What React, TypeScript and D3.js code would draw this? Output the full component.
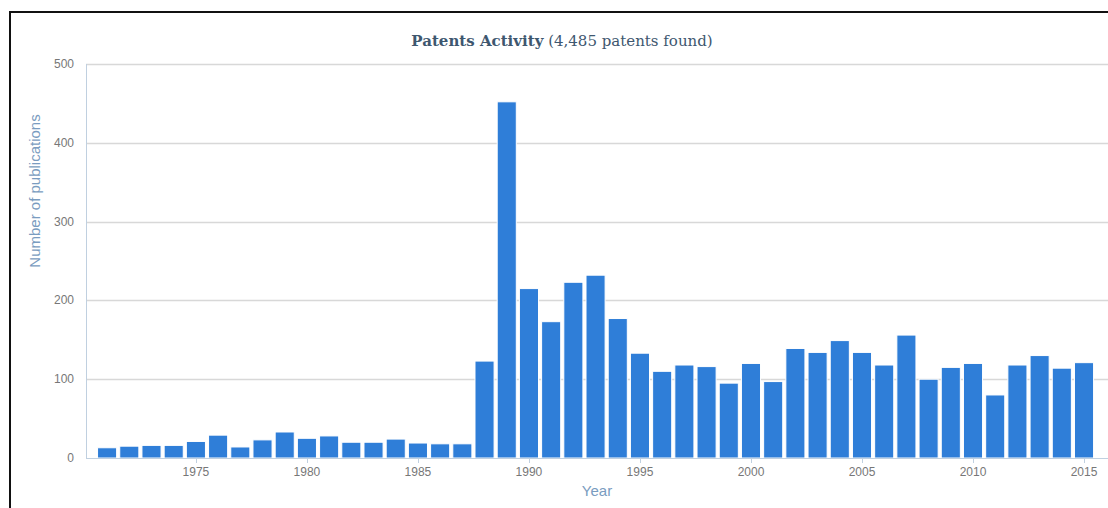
import React from "react";
import * as d3 from "d3";

const years: number[] = d3.range(1971, 2016);
const counts: number[] = [
  13, 15, 16, 16, 21, 29, 14, 23, 33, 25, 28, 20, 20, 24, 19, 18, 18,
  123, 452, 215, 173, 223, 232, 177, 133, 110, 118, 116, 95, 120, 97,
  139, 134, 149, 134, 118, 156, 100, 115, 120, 80, 118, 130, 114, 121,
];
const yTicks: number[] = [0, 100, 200, 300, 400, 500];
const xTicks: number[] = [1975, 1980, 1985, 1990, 1995, 2000, 2005, 2010, 2015];
const titleBold = "Patents Activity";
const titleRest = " (4,485 patents found)";
const yTitle = "Number of publications";
const xTitle = "Year";

const W = 1108;
const H = 508;
const plotLeft = 86;
const plotRight = 1108;
const plotTop = 64;
const plotBottom = 458;

export default function App() {
  const x = d3.scaleLinear().domain([1970.05, 2016.08]).range([plotLeft, plotRight]);
  const y = d3.scaleLinear().domain([0, 500]).range([plotBottom, plotTop]);
  const slot = x(1) - x(0);
  const barW = slot * 0.86;
  const sans = "'Liberation Sans', Arial, sans-serif";

  return (
    <div style={{ position: "absolute", left: 0, top: 0 }}>
      <svg width={W} height={H} style={{ display: "block", background: "#fff" }}>
        {/* frame */}
        <line x1={9} y1={12} x2={W} y2={12} stroke="#111" strokeWidth={2} />
        <line x1={10} y1={11} x2={10} y2={H} stroke="#111" strokeWidth={2} />

        {/* title */}
        <text
          x={562}
          y={46}
          textAnchor="middle"
          fontFamily="'DejaVu Serif', Georgia, serif"
          fontSize={15}
          fill="#3e576f"
        >
          <tspan fontWeight="bold">{titleBold}</tspan>
          <tspan>{titleRest}</tspan>
        </text>

        {/* grid */}
        {yTicks.filter((t) => t > 0).map((t) => (
          <line
            key={t}
            x1={plotLeft}
            x2={plotRight}
            y1={Math.round(y(t)) + 0.5}
            y2={Math.round(y(t)) + 0.5}
            stroke="#d8d8d8"
            strokeWidth={1.5}
          />
        ))}

        {/* y axis line */}
        <line x1={plotLeft + 0.5} x2={plotLeft + 0.5} y1={plotTop} y2={plotBottom} stroke="#c0d0e0" strokeWidth={1} />

        {/* bars */}
        {years.map((yr, i) => (
          <rect
            key={yr}
            x={x(yr) - barW / 2}
            y={y(counts[i])}
            width={barW}
            height={plotBottom - y(counts[i])}
            fill="#2f7ed8"
            stroke="#ffffff"
            strokeWidth={1}
          />
        ))}

        {/* x axis line */}
        <line x1={plotLeft} x2={plotRight} y1={plotBottom + 0.5} y2={plotBottom + 0.5} stroke="#c0d0e0" strokeWidth={1} />
        {xTicks.map((t) => (
          <line
            key={t}
            x1={Math.round(x(t)) + 0.5}
            x2={Math.round(x(t)) + 0.5}
            y1={plotBottom}
            y2={plotBottom + 5}
            stroke="#c0d0e0"
            strokeWidth={1}
          />
        ))}

        {/* y tick labels */}
        {yTicks.map((t) => (
          <text
            key={t}
            x={74}
            y={y(t) + 4}
            textAnchor="end"
            fontFamily={sans}
            fontSize={12}
            fill="#777"
          >
            {t}
          </text>
        ))}

        {/* x tick labels */}
        {xTicks.map((t) => (
          <text
            key={t}
            x={x(t)}
            y={plotBottom + 18}
            textAnchor="middle"
            fontFamily={sans}
            fontSize={12}
            fill="#777"
          >
            {t}
          </text>
        ))}

        {/* axis titles */}
        <text
          transform={`translate(40,191) rotate(-90)`}
          textAnchor="middle"
          fontFamily={sans}
          fontSize={15}
          fill="#7a9cc0"
        >
          {yTitle}
        </text>
        <text
          x={597}
          y={496}
          textAnchor="middle"
          fontFamily={sans}
          fontSize={15}
          fill="#7a9cc0"
        >
          {xTitle}
        </text>
      </svg>
    </div>
  );
}
